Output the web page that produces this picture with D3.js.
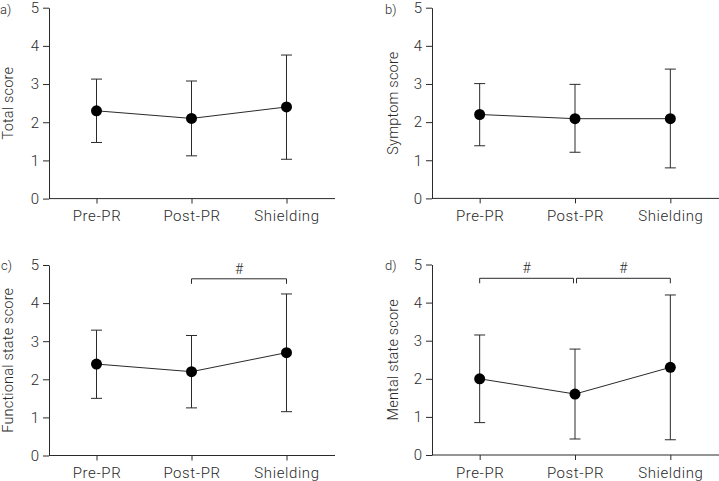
<!DOCTYPE html>
<html>
<head>
<meta charset="utf-8">
<script src="https://cdn.jsdelivr.net/npm/d3@7"></script>
<style>
  html, body { margin: 0; padding: 0; background: #fff; }
  svg { display: block; }
  text { font-family: Roboto, "DejaVu Sans", sans-serif; fill: #2a2a2a; font-weight: 300; }
</style>
</head>
<body>
<svg id="chart" width="719" height="481"></svg>
<script>
const categories = ["Pre-PR", "Post-PR", "Shielding"];
const yTicks = [0, 1, 2, 3, 4, 5];

const panelLabels = ["a)", "b)", "c)", "d)"];
const yTitles = ["Total score", "Symptom score", "Functional state score", "Mental state score"];

// means and error bar bounds per panel
const totalMean = [2.3, 2.1, 2.4];
const totalLow  = [1.47, 1.12, 1.03];
const totalHigh = [3.13, 3.08, 3.76];

const symptomMean = [2.2, 2.09, 2.09];
const symptomLow  = [1.38, 1.21, 0.8];
const symptomHigh = [3.01, 2.99, 3.39];

const functionalMean = [2.4, 2.2, 2.7];
const functionalLow  = [1.5, 1.25, 1.15];
const functionalHigh = [3.29, 3.15, 4.24];

const mentalMean = [2.0, 1.6, 2.3];
const mentalLow  = [0.85, 0.42, 0.4];
const mentalHigh = [3.15, 2.78, 4.2];

// significance brackets: [from, to] category indices
const sigC = [[1, 2]];
const sigD = [[0, 1], [1, 2]];

const panels = [
  { label: panelLabels[0], title: yTitles[0], mean: totalMean, low: totalLow, high: totalHigh, sig: [],
    x0: 49, x1: 334, yTop: 7.7, yBot: 198.6, labX: 0, labY: 13.5, titleX: 13 },
  { label: panelLabels[1], title: yTitles[1], mean: symptomMean, low: symptomLow, high: symptomHigh, sig: [],
    x0: 432, x1: 718, yTop: 7.7, yBot: 198.4, labX: 385, labY: 13.5, titleX: 397.5 },
  { label: panelLabels[2], title: yTitles[2], mean: functionalMean, low: functionalLow, high: functionalHigh, sig: sigC,
    x0: 49, x1: 334, yTop: 265, yBot: 455.5, labX: 1, labY: 270, titleX: 13 },
  { label: panelLabels[3], title: yTitles[3], mean: mentalMean, low: mentalLow, high: mentalHigh, sig: sigD,
    x0: 432, x1: 718, yTop: 264.5, yBot: 455, labX: 385, labY: 270, titleX: 397.5 }
];

const svg = d3.select("#chart");
const ink = "#2a2a2a";
const FONT = "Roboto, sans-serif";

panels.forEach(p => {
  const g = svg.append("g");
  const x = d3.scalePoint().domain(categories).range([p.x0, p.x1]).padding(0.5);
  const y = d3.scaleLinear().domain([0, 5]).range([p.yBot, p.yTop]);

  // y axis
  const ya = g.append("g").attr("transform", `translate(${p.x0},0)`)
    .call(d3.axisLeft(y).tickValues(yTicks).tickSize(6).tickSizeOuter(0).tickPadding(4).tickFormat(d3.format("d")));
  ya.selectAll("text").attr("font-size", 15).style("font-family", FONT).style("font-weight", 300).attr("fill", ink);
  ya.select(".domain").attr("stroke", ink);
  ya.selectAll(".tick line").attr("stroke", ink);

  // x axis
  const xa = g.append("g").attr("transform", `translate(0,${p.yBot})`)
    .call(d3.axisBottom(x).tickSize(5).tickSizeOuter(0).tickPadding(7));
  xa.selectAll("text").attr("font-size", 15).style("font-family", FONT).style("font-weight", 300)
    .attr("fill", ink).attr("letter-spacing", "0.6px");
  xa.select(".domain").attr("stroke", ink).attr("d", `M${p.x0},0H${p.x1 + 1}`);
  xa.selectAll(".tick line").attr("stroke", ink);

  // y title
  g.append("text")
    .attr("transform", `translate(${p.titleX},${(p.yTop + p.yBot) / 2}) rotate(-90)`)
    .attr("text-anchor", "middle").attr("font-size", 14.5).attr("letter-spacing", "0.2px").text(p.title);

  // panel label
  g.append("text").attr("x", p.labX).attr("y", p.labY).attr("font-size", 13).text(p.label);

  const data = categories.map((c, i) => ({ c, m: p.mean[i], lo: p.low[i], hi: p.high[i] }));

  // error bars
  const eb = g.append("g").attr("stroke", ink).attr("stroke-width", 1).attr("fill", "none");
  data.forEach(d => {
    const cx = x(d.c);
    eb.append("line").attr("x1", cx).attr("x2", cx).attr("y1", y(d.lo)).attr("y2", y(d.hi));
    eb.append("line").attr("x1", cx - 5.5).attr("x2", cx + 5.5).attr("y1", y(d.lo)).attr("y2", y(d.lo));
    eb.append("line").attr("x1", cx - 5.5).attr("x2", cx + 5.5).attr("y1", y(d.hi)).attr("y2", y(d.hi));
  });

  // connecting line
  g.append("path").datum(data)
    .attr("fill", "none").attr("stroke", ink).attr("stroke-width", 1)
    .attr("d", d3.line().x(d => x(d.c)).y(d => y(d.m)));

  // points
  g.selectAll("circle.pt").data(data).enter().append("circle")
    .attr("cx", d => x(d.c)).attr("cy", d => y(d.m)).attr("r", 5.5).attr("fill", "#000");

  // significance brackets
  p.sig.forEach(([a, b]) => {
    const xa1 = x(categories[a]) + (a > 0 && p.sig.length > 1 ? 1.5 : 0);
    const xb1 = x(categories[b]) - (b < 2 && p.sig.length > 1 ? 1.5 : 0);
    const by = p.yTop + 13.8;
    g.append("path").attr("fill", "none").attr("stroke", ink).attr("stroke-width", 1)
      .attr("d", `M${xa1},${by + 5}V${by}H${xb1}V${by + 5}`);
    g.append("text").attr("x", (xa1 + xb1) / 2).attr("y", by - 5)
      .attr("text-anchor", "middle").attr("font-size", 14).text("#");
  });
});
</script>
</body>
</html>
